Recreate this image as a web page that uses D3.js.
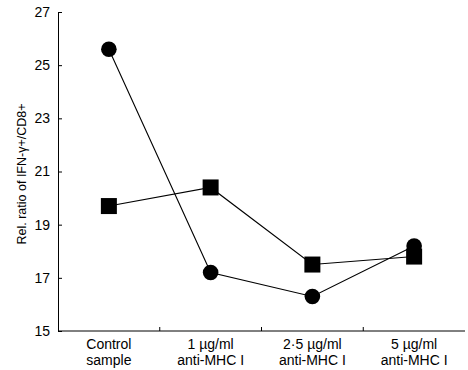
<!DOCTYPE html>
<html>
<head>
<meta charset="utf-8">
<script src="https://cdn.jsdelivr.net/npm/d3@7"></script>
<style>
  body { margin: 0; background: #fff; }
  text { font-family: "Liberation Sans", Arial, sans-serif; fill: #000; }
</style>
</head>
<body>
<svg id="chart"></svg>
<script>
// categories (two lines each)
var categories = ["Control sample", "1 µg/ml anti-MHC I", "2·5 µg/ml anti-MHC I", "5 µg/ml anti-MHC I"];
var catLines = [["Control", "sample"], ["1 µg/ml", "anti-MHC I"], ["2·5 µg/ml", "anti-MHC I"], ["5 µg/ml", "anti-MHC I"]];
var circleValues = [25.6, 17.2, 16.3, 18.2];
var squareValues = [19.7, 20.4, 17.5, 17.8];
var yTicks = [15, 17, 19, 21, 23, 25, 27];

var width = 468, height = 370;
var margin = {left: 58, right: 3, top: 12, bottom: 39};

var svg = d3.select("#chart")
  .attr("width", width)
  .attr("height", height);

var x = d3.scaleBand()
  .domain(categories)
  .range([margin.left, width - margin.right]);

var y = d3.scaleLinear()
  .domain([15, 27])
  .range([height - margin.bottom, margin.top]);

// y axis
var yAxis = svg.append("g")
  .attr("transform", "translate(" + margin.left + ",0)")
  .call(d3.axisLeft(y).tickValues(yTicks).tickSizeInner(-4).tickSizeOuter(0).tickPadding(8));
yAxis.select(".domain").attr("stroke", "#000");
yAxis.selectAll("text").style("font-size", "14px");

// x axis: ticks at band boundaries
var xAxisG = svg.append("g")
  .attr("transform", "translate(0," + (height - margin.bottom) + ")");
xAxisG.append("line")
  .attr("x1", margin.left).attr("x2", width - margin.right)
  .attr("stroke", "#000");
xAxisG.selectAll(".tk")
  .data(categories.slice(1))
  .enter().append("line")
  .attr("x1", function(d) { return x(d); })
  .attr("x2", function(d) { return x(d); })
  .attr("y1", 0).attr("y2", -4)
  .attr("stroke", "#000");
// two separate text lines per category
catLines.forEach(function(d, i) {
  var cxl = x(categories[i]) + x.bandwidth() / 2;
  d.forEach(function(s, j) {
    xAxisG.append("text")
      .attr("text-anchor", "middle")
      .attr("x", cxl)
      .attr("y", 18 + j * 16)
      .style("font-size", "14px")
      .text(s);
  });
});

// y axis title
svg.append("text")
  .attr("transform", "translate(26,174) rotate(-90)")
  .attr("text-anchor", "middle")
  .style("font-size", "12.5px")
  .text("Rel. ratio of IFN-γ+/CD8+");

var cx = function(d, i) { return x(categories[i]) + x.bandwidth() / 2; };
var line = d3.line()
  .x(function(d, i) { return cx(d, i); })
  .y(function(d) { return y(d); });

svg.append("path").datum(circleValues)
  .attr("d", line).attr("fill", "none").attr("stroke", "#000").attr("stroke-width", 1.1);
svg.append("path").datum(squareValues)
  .attr("d", line).attr("fill", "none").attr("stroke", "#000").attr("stroke-width", 1.1);

svg.selectAll(".sq")
  .data(squareValues)
  .enter().append("rect")
  .attr("x", function(d, i) { return cx(d, i) - 8; })
  .attr("y", function(d) { return y(d) - 8; })
  .attr("width", 16).attr("height", 16)
  .attr("fill", "#000");

svg.selectAll(".ci")
  .data(circleValues)
  .enter().append("circle")
  .attr("cx", cx)
  .attr("cy", function(d) { return y(d); })
  .attr("r", 7.8)
  .attr("fill", "#000");
</script>
</body>
</html>
